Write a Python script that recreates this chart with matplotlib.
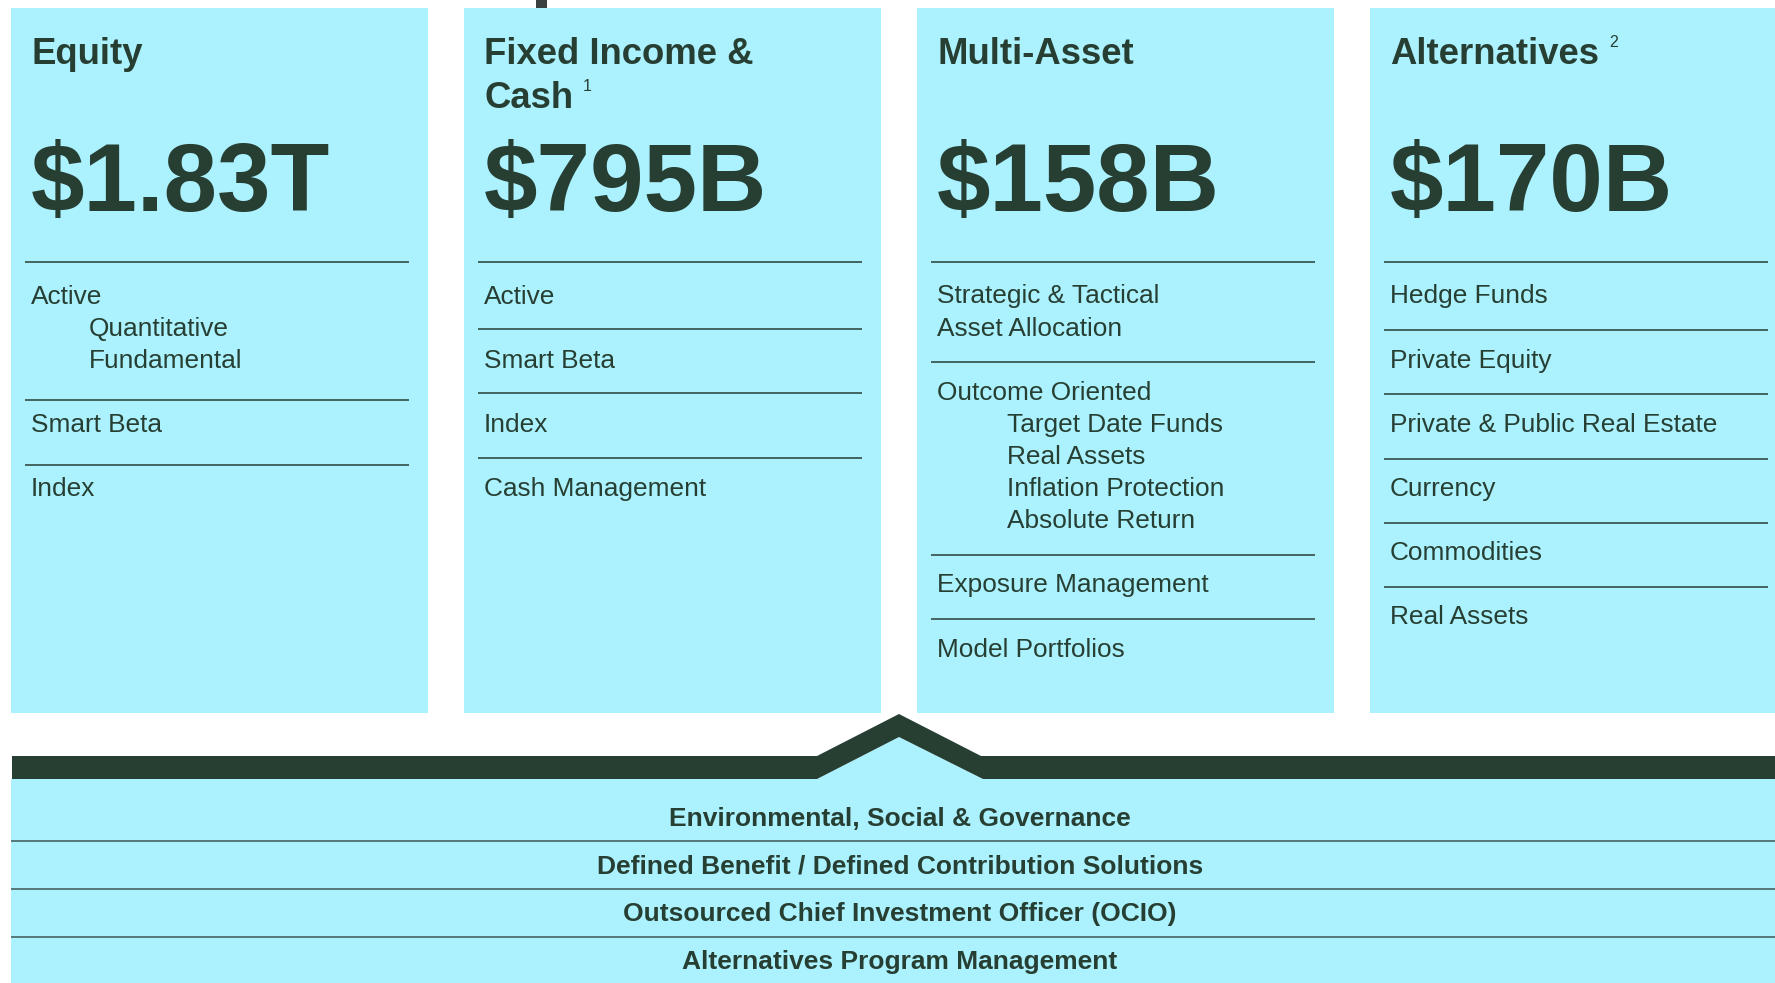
import matplotlib
matplotlib.use("Agg")
import matplotlib.pyplot as plt
from matplotlib.patches import Rectangle, Polygon

# ---------------- data ----------------
categories = ["Equity", "Fixed Income &\nCash", "Multi-Asset", "Alternatives"]
footnotes = ["", "1", "", "2"]
aum_labels = ["$1.83T", "$795B", "$158B", "$170B"]
# None = divider line, leading ">" = indented sub-item
equity_items = ["Active", ">Quantitative", ">Fundamental", None, "Smart Beta", None, "Index"]
fixed_income_items = ["Active", None, "Smart Beta", None, "Index", None, "Cash Management"]
multi_asset_items = ["Strategic & Tactical", "Asset Allocation", None, "Outcome Oriented",
                     ">Target Date Funds", ">Real Assets", ">Inflation Protection",
                     ">Absolute Return", None, "Exposure Management", None, "Model Portfolios"]
alternatives_items = ["Hedge Funds", None, "Private Equity", None,
                      "Private & Public Real Estate", None, "Currency", None,
                      "Commodities", None, "Real Assets"]
panel_items = [equity_items, fixed_income_items, multi_asset_items, alternatives_items]
solutions = ["Environmental, Social & Governance",
             "Defined Benefit / Defined Contribution Solutions",
             "Outsourced Chief Investment Officer (OCIO)",
             "Alternatives Program Management"]

# ---------------- style / layout ----------------
plt.rcParams["font.family"] = ["Liberation Sans", "DejaVu Sans"]
LIGHT = "#ABF1FE"
DARK = "#273F33"
W, H = 1775, 983
panel_indent = [58, 0, 70, 0]
# divider offsets (pixels below the row centre) per panel
divider_offset = [10, 3, 4, 4]

fig = plt.figure(figsize=(W / 100, H / 100), dpi=100)
fig.patch.set_facecolor("white")
ax = fig.add_axes([0, 0, 1, 1])
ax.set_xlim(0, W)
ax.set_ylim(H, 0)
ax.axis("off")

# small dark mark at top
ax.add_patch(Rectangle((536, 0), 11, 8, facecolor="#3a4040", edgecolor="none"))

row0 = 294.0
row_step = 32.1
for i, (cat, fn, aum, items) in enumerate(zip(categories, footnotes, aum_labels, panel_items)):
    left = 11 + i * 453
    width = min(417, W - left)
    ax.add_patch(Rectangle((left, 8), width, 705, facecolor=LIGHT, edgecolor="none"))
    tx = left + 20
    # title lines
    lines = cat.split("\n")
    last = None
    for k, ln in enumerate(lines):
        last = ax.text(tx, 64 + 44 * k, ln, fontsize=26.3, fontweight="bold", color=DARK,
                       ha="left", va="baseline")
    if fn:
        ax.annotate(fn, xy=(1, 1), xycoords=last, xytext=(10, 2), textcoords="offset pixels",
                    fontsize=11.5, color=DARK, ha="left", va="top")
    # big number
    ax.text(tx, 211, aum, fontsize=69.2, fontweight="bold", color=DARK,
            ha="left", va="baseline", parse_math=False)
    # top divider
    ax.plot([left + 14, left + 398], [262, 262], color=DARK, lw=1.1, solid_capstyle="butt")
    for r, it in enumerate(items):
        yc = row0 + r * row_step
        if it is None:
            yd = yc + divider_offset[i]
            ax.plot([left + 14, left + 398], [yd, yd], color=DARK, lw=1.1,
                    solid_capstyle="butt")
        else:
            x = tx
            if it.startswith(">"):
                it = it[1:]
                x += panel_indent[i]
            ax.text(x, yc + 9.5, it, fontsize=18.9, color=DARK, ha="left", va="baseline")

# bottom light area (below chevron band)
ax.add_patch(Polygon([(11, 779), (817, 779), (899, 737), (983, 779), (W, 779), (W, H), (11, H)],
                     closed=True, facecolor=LIGHT, edgecolor="none"))
# dark chevron band
ax.add_patch(Polygon([(12, 756), (817, 756), (899, 714), (981, 756), (W, 756), (W, 779),
                      (983, 779), (899, 737), (817, 779), (12, 779)],
                     closed=True, facecolor=DARK, edgecolor="none"))

sol_centers = [817, 864, 912, 960]
for k, (s, yc) in enumerate(zip(solutions, sol_centers)):
    ax.text(900, yc + 9.5, s, fontsize=19, fontweight="bold", color=DARK,
            ha="center", va="baseline")
    if k > 0:
        ysep = (sol_centers[k - 1] + yc) / 2 + 0.5
        ax.plot([11, W], [ysep, ysep], color="#3d5a55", lw=1.1, solid_capstyle="butt")

fig.savefig("out.png", dpi=100, facecolor="white")
